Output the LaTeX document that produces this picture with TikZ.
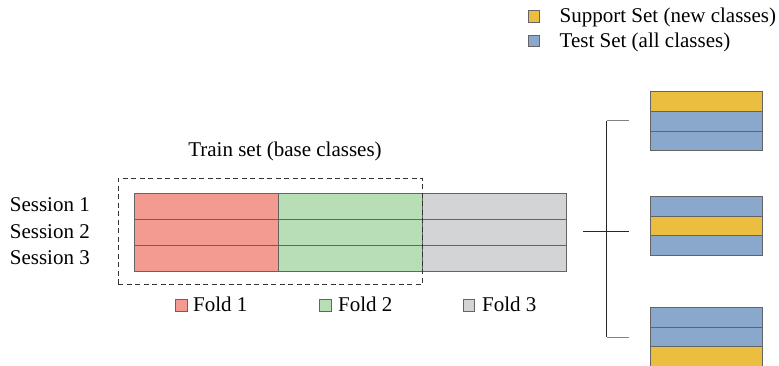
\documentclass[tikz,border=0pt]{standalone}
\usepackage{fontspec}
\setmainfont{Liberation Serif}
\definecolor{redf}{RGB}{244,155,145}
\definecolor{greenf}{RGB}{183,222,180}
\definecolor{grayf}{RGB}{211,212,214}
\definecolor{yellowf}{RGB}{236,190,64}
\definecolor{bluef}{RGB}{138,168,203}
\definecolor{edge}{RGB}{100,100,100}
\definecolor{tick}{RGB}{130,130,130}
\tikzset{
  cell/.style={draw=edge, line width=1pt, inner sep=0pt, anchor=north west, minimum width=144pt, minimum height=26pt},
  scell/.style={draw=edge, line width=1pt, inner sep=0pt, anchor=north west, minimum width=112pt, minimum height=19.8pt},
  key/.style={draw=edge, line width=0.8pt, inner sep=0pt, minimum width=11.5pt, minimum height=11.5pt, anchor=north west},
  lbl/.style={font=\fontsize{21}{24}\selectfont, inner sep=0pt},
}
\begin{document}
\begin{tikzpicture}[x=1pt,y=-1pt]
\useasboundingbox (0,0) rectangle (779,366);
% top legend
\node[key, fill=yellowf] (ks) at (527.5,10.5) {};
\node[lbl, anchor=base west] (ts) at (559.5,23) {Support Set (new classes)};
\node[key, fill=bluef] (kt) at (527.5,35) {};
\node[lbl, anchor=base west] (tt) at (559.5,47.5) {Test Set (all classes)};
% train set label
\node[lbl, anchor=base] (train) at (285,157) {Train set (base classes)};
% session labels
\node[lbl, anchor=base east] (s1) at (90,212) {Session 1};
\node[lbl, anchor=base east] (s2) at (90,238.5) {Session 2};
\node[lbl, anchor=base east] (s3) at (90,265) {Session 3};
% grid
\foreach \r/\y in {1/193.3,2/219.3,3/245.3} {
  \node[cell, fill=redf] (r\r) at (134,\y) {};
  \node[cell, fill=greenf] (g\r) at (278,\y) {};
  \node[cell, fill=grayf] (h\r) at (422,\y) {};
}
% dashed box
\node[draw=black!80, line width=0.9pt, dash pattern=on 5pt off 3.5pt, inner sep=0pt, anchor=north west, minimum width=304.3pt, minimum height=106.3pt] (box) at (117.7,177.7) {};
% fold legend
\node[key, fill=redf] (kf1) at (175,299) {};
\node[lbl, anchor=base west] (f1) at (193,311) {Fold 1};
\node[key, fill=greenf] (kf2) at (319,299) {};
\node[lbl, anchor=base west] (f2) at (338,311) {Fold 2};
\node[key, fill=grayf] (kf3) at (462.5,299) {};
\node[lbl, anchor=base west] (f3) at (482,311) {Fold 3};
% right stacks
\node[scell, fill=yellowf] (a1) at (650,91) {};
\node[scell, fill=bluef] (a2) at (650,110.8) {};
\node[scell, fill=bluef] (a3) at (650,130.6) {};
\node[scell, fill=bluef] (b1) at (650,195.8) {};
\node[scell, fill=yellowf] (b2) at (650,215.6) {};
\node[scell, fill=bluef] (b3) at (650,235.4) {};
\node[scell, fill=bluef] (c1) at (650,306.8) {};
\node[scell, fill=bluef] (c2) at (650,326.6) {};
\node[scell, fill=yellowf] (c3) at (650,346.4) {};
% bracket
\coordinate (in) at (583,232);
\coordinate (v1) at (606.5,121);
\coordinate (v2) at (606.5,232);
\coordinate (v3) at (606.5,337);
\coordinate (e1) at (629,121);
\coordinate (e2) at (629,232);
\coordinate (e3) at (629,337);
\draw[line width=1pt, black!85] (in) -- (e2);
\draw[line width=1pt, black!85] (v1) -- (v3);
\draw[line width=1pt, tick] (v1) -- (e1);
\draw[line width=1pt, tick] (v3) -- (e3);
\end{tikzpicture}
\end{document}
